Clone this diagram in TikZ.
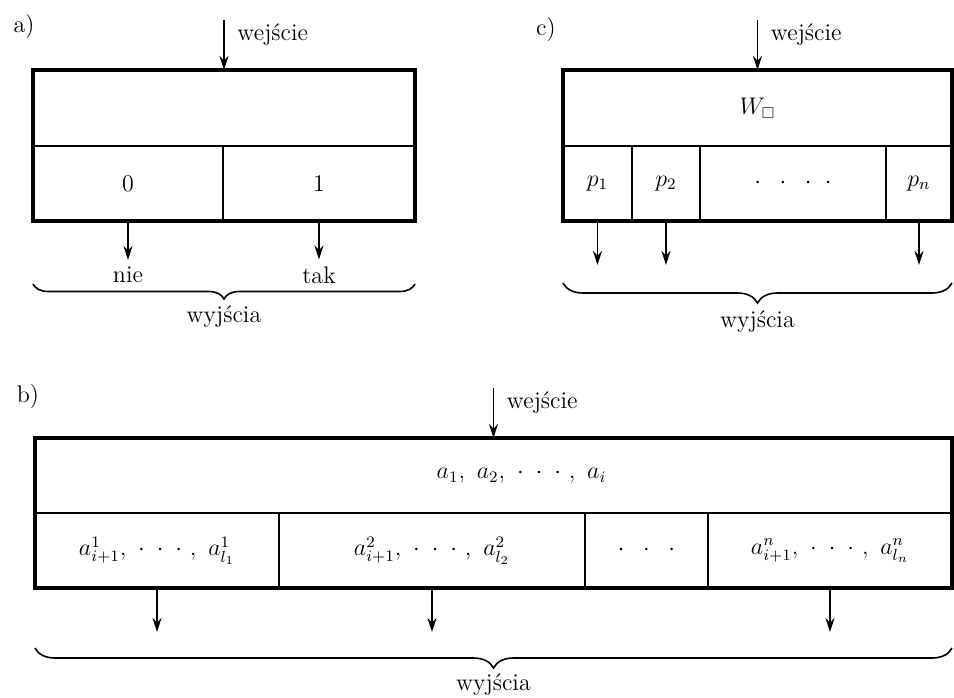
\documentclass[tikz,border=0pt]{standalone}
\usepackage{amsmath,amssymb}
\usepackage{tikz}
\usetikzlibrary{arrows.meta, positioning, fit, decorations.pathreplacing}

\begin{document}
\begin{tikzpicture}[
  x=0.5pt, y=-0.5pt,
  font=\fontsize{12}{14}\selectfont,
  cell/.style={draw, line width=0.8pt, inner sep=0pt, outer sep=0pt,
               minimum height=37.5pt, anchor=north west},
  frame/.style={draw, line width=1.6pt, inner sep=0pt},
  arrow/.style={-{Stealth[length=7pt, width=4.5pt]}, line width=0.8pt},
  outbrace/.style={decorate, decoration={brace, mirror, amplitude=#1},
                   line width=0.8pt},
  outbrace/.default=9pt
]
  \useasboundingbox (0,0) rectangle (954,697);

  % a) two outputs
  \node (alab) at (24,27) {a)};
  \node[cell, minimum width=191pt, minimum height=38pt] (atop) at (33,70) {};
  \node[cell, minimum width=95pt] (a0) at (atop.south west) {0};
  \node[cell, minimum width=96pt] (a1) at (a0.north east) {1};
  \node[frame, fit=(atop)(a0)(a1)] (aframe) {};
  \coordinate (ain) at ([yshift=25pt]atop.north);
  \draw[arrow] (ain) -- (atop.north) node[pos=0.3, right=3pt] {wejście};
  \node (nie) at (128,275) {nie};
  \node (tak) at (319,275) {tak};
  \draw[arrow] (a0.south) -- (nie.north);
  \draw[arrow] (a1.south) -- (tak.north);
  \coordinate (abl) at (33,284);
  \coordinate (abr) at (415,284);
  \draw[outbrace=7.5pt] (abl) -- (abr) node[midway, below=7pt] (aout) {wyjścia};

  % c) n outputs
  \node (clab) at (546,30) {c)};
  \node[cell, minimum width=194.5pt, minimum height=38pt] (ctop) at (563,70) {$W_{\square}$};
  \node[cell, minimum width=34.5pt] (cp1) at (ctop.south west) {$p_1$};
  \node[cell, minimum width=34pt] (cp2) at (cp1.north east) {$p_2$};
  \node[cell, minimum width=93pt] (cdots) at (cp2.north east) {$\cdot\;\;\cdot\;\;\cdot\;\;\cdot$};
  \node[cell, minimum width=33pt] (cpn) at (cdots.north east) {$p_n$};
  \node[frame, fit=(ctop)(cp1)(cpn)] (cframe) {};
  \coordinate (cin) at ([yshift=25pt]ctop.north);
  \draw[arrow] (cin) -- (ctop.north) node[pos=0.3, right=3pt] {wejście};
  \foreach \c in {cp1,cp2,cpn} {
    \coordinate (\c-out) at ([yshift=-22pt]\c.south);
    \draw[arrow] (\c.south) -- (\c-out);
  }
  \coordinate (cbl) at (563,283);
  \coordinate (cbr) at (952,283);
  \draw[outbrace=10pt] (cbl) -- (cbr) node[midway, below=10pt] (cout) {wyjścia};

  % b) words split by continuation
  \node (blab) at (28,397) {b)};
  \node[cell, minimum width=458.5pt,
        label={[xshift=14pt]center:$a_1,\ a_2,\ \cdot\;\cdot\;\cdot\ ,\ a_i$}] (btop) at (35,438) {};
  \node[cell, minimum width=122pt] (b1) at (btop.south west)
        {$a^1_{i+1},\ \cdot\;\cdot\;\cdot\ ,\ a^1_{l_1}$};
  \node[cell, minimum width=153pt] (b2) at (b1.north east)
        {$a^2_{i+1},\ \cdot\;\cdot\;\cdot\ ,\ a^2_{l_2}$};
  \node[cell, minimum width=61.5pt] (b3) at (b2.north east) {$\cdot\;\;\cdot\;\;\cdot$};
  \node[cell, minimum width=122pt] (bn) at (b3.north east)
        {$a^n_{i+1},\ \cdot\;\cdot\;\cdot\ ,\ a^n_{l_n}$};
  \node[frame, fit=(btop)(b1)(bn)] (bframe) {};
  \coordinate (bin) at ([yshift=25pt]btop.north);
  \draw[arrow] (bin) -- (btop.north) node[pos=0.3, right=3pt] {wejście};
  \foreach \c in {b1,b2,bn} {
    \coordinate (\c-out) at ([yshift=-22pt]\c.south);
    \draw[arrow] (\c.south) -- (\c-out);
  }
  \coordinate (bbl) at (35,648);
  \coordinate (bbr) at (952,648);
  \draw[outbrace=10pt] (bbl) -- (bbr) node[midway, below=9pt] (bout) {wyjścia};
\end{tikzpicture}
\end{document}
